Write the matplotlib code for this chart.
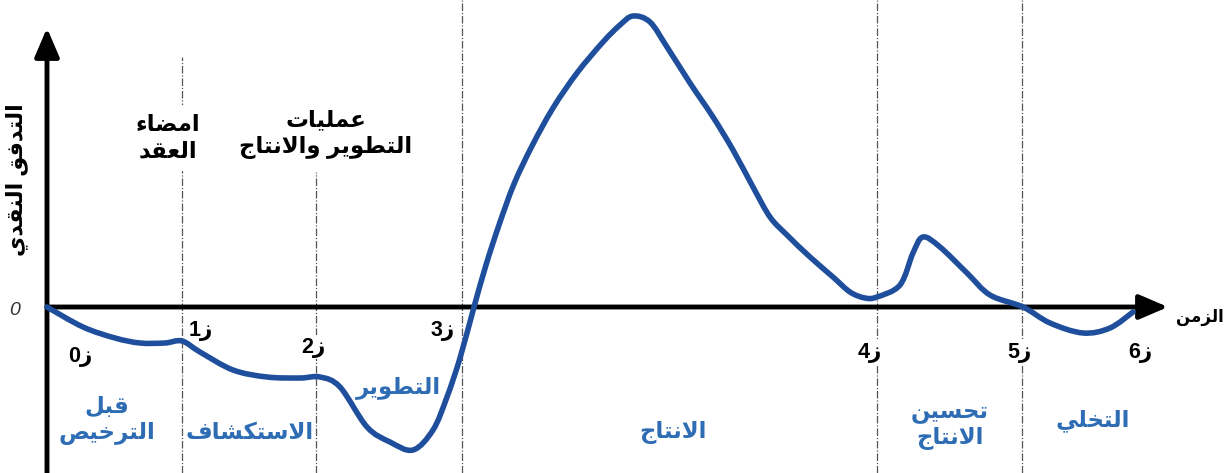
import numpy as np
import matplotlib
matplotlib.use('Agg')
import matplotlib.pyplot as plt
from matplotlib.path import Path
from matplotlib.patches import PathPatch

# Cash-flow curve (time, cash flow), arbitrary units
t_vals = [0.0, 0.36, 0.68, 0.93, 1.18, 1.35, 1.53, 1.86, 2.20, 2.53, 2.73, 2.93,
          3.20, 3.43, 3.66, 3.86, 4.00, 4.13, 4.27, 4.39, 4.52, 4.67, 4.85, 5.06,
          5.30, 5.56, 5.73, 5.86, 6.03, 6.20, 6.43, 6.66, 6.86, 7.06, 7.23, 7.40,
          7.63, 7.86, 8.03, 8.18, 8.30, 8.53, 8.66, 8.76, 8.93, 9.20, 9.43, 9.76,
          10.03, 10.36, 10.63, 10.86]
cf_vals = [0.0, -0.20, -0.31, -0.36, -0.36, -0.34, -0.45, -0.63, -0.70, -0.71, -0.70, -0.80,
           -1.20, -1.35, -1.43, -1.23, -0.90, -0.51, 0.0, 0.42, 0.82, 1.23, 1.61, 1.99,
           2.34, 2.65, 2.82, 2.91, 2.85, 2.60, 2.24, 1.90, 1.57, 1.20, 0.90, 0.72,
           0.50, 0.30, 0.15, 0.09, 0.10, 0.22, 0.54, 0.70, 0.60, 0.34, 0.12, 0.0,
           -0.16, -0.26, -0.21, -0.05]

# milestones ز0 .. ز6
mile_t = [0.0, 1.35, 2.69, 4.15, 8.30, 9.75, 10.97]
mile_names = ['ز0', 'ز1', 'ز2', 'ز3', 'ز4', 'ز5', 'ز6']

phase_names = ['قبل\nالترخيص', 'الاستكشاف', 'التطوير', 'الانتاج', 'تحسين\nالانتاج', 'التخلي']
event_names = ['امضاء\nالعقد', 'عمليات\nالتطوير والانتاج']
x_title = 'الزمن'
y_title = 'التدفق النقدي'

#--------------------------
# matplotlib has no arabic shaping: use presentation forms + visual order
FORMS = {
    'ء': ('\uFE80',),
    'ا': ('\uFE8D', '\uFE8E'),
    'ب': ('\uFE8F', '\uFE90', '\uFE91', '\uFE92'),
    'ت': ('\uFE95', '\uFE96', '\uFE97', '\uFE98'),
    'ج': ('\uFE9D', '\uFE9E', '\uFE9F', '\uFEA0'),
    'ح': ('\uFEA1', '\uFEA2', '\uFEA3', '\uFEA4'),
    'خ': ('\uFEA5', '\uFEA6', '\uFEA7', '\uFEA8'),
    'د': ('\uFEA9', '\uFEAA'),
    'ر': ('\uFEAD', '\uFEAE'),
    'ز': ('\uFEAF', '\uFEB0'),
    'س': ('\uFEB1', '\uFEB2', '\uFEB3', '\uFEB4'),
    'ش': ('\uFEB5', '\uFEB6', '\uFEB7', '\uFEB8'),
    'ص': ('\uFEB9', '\uFEBA', '\uFEBB', '\uFEBC'),
    'ض': ('\uFEBD', '\uFEBE', '\uFEBF', '\uFEC0'),
    'ط': ('\uFEC1', '\uFEC2', '\uFEC3', '\uFEC4'),
    'ع': ('\uFEC9', '\uFECA', '\uFECB', '\uFECC'),
    'ف': ('\uFED1', '\uFED2', '\uFED3', '\uFED4'),
    'ق': ('\uFED5', '\uFED6', '\uFED7', '\uFED8'),
    'ك': ('\uFED9', '\uFEDA', '\uFEDB', '\uFEDC'),
    'ل': ('\uFEDD', '\uFEDE', '\uFEDF', '\uFEE0'),
    'م': ('\uFEE1', '\uFEE2', '\uFEE3', '\uFEE4'),
    'ن': ('\uFEE5', '\uFEE6', '\uFEE7', '\uFEE8'),
    'و': ('\uFEED', '\uFEEE'),
    'ي': ('\uFEF1', '\uFEF2', '\uFEF3', '\uFEF4'),
}

def joins_next(c):
    return c in FORMS and len(FORMS[c]) == 4

def joins_prev(c):
    return c in FORMS and len(FORMS[c]) >= 2

def shape_line(s):
    res = []
    i = 0
    n = len(s)
    while i < n:
        c = s[i]
        prev = s[i - 1] if i > 0 else None
        link_prev = prev is not None and joins_next(prev) and joins_prev(c)
        if c == 'ل' and i + 1 < n and s[i + 1] == 'ا':
            res.append('\uFEFC' if link_prev else '\uFEFB')
            i += 2
            continue
        nxt = s[i + 1] if i + 1 < n else None
        link_next = nxt is not None and joins_next(c) and joins_prev(nxt)
        f = FORMS.get(c)
        if f is None:
            res.append(c)
        elif link_prev and link_next:
            res.append(f[3])
        elif link_prev:
            res.append(f[1])
        elif link_next:
            res.append(f[2])
        else:
            res.append(f[0])
        i += 1
    return ''.join(reversed(res))

def ar(s):
    return '\n'.join(shape_line(l) for l in s.split('\n'))

#--------------------------
myfont = ['Liberation Sans', 'DejaVu Sans']
curve_color = '#1f4f9c'
label_blue = '#2e6db4'

fig = plt.figure(figsize=(12.3, 4.73), dpi=100)
ax = fig.add_axes([0, 0, 1, 1])
ax.set_xlim(-0.47, 11.83)
ax.set_ylim(-1.66, 3.07)
ax.axis('off')

# Axes arrows
ax.annotate('', xy=(0, 2.79), xytext=(0, -1.70),
            arrowprops=dict(arrowstyle='-|>,head_length=0.7,head_width=0.3', lw=3.5,
                            color='black', mutation_scale=25, shrinkA=0, shrinkB=0), zorder=3)
ax.annotate('', xy=(11.21, 0), xytext=(0, 0),
            arrowprops=dict(arrowstyle='-|>,head_length=0.7,head_width=0.3', lw=3.5,
                            color='black', mutation_scale=25, shrinkA=0, shrinkB=0), zorder=3)

# Dashed milestone lines
line_tops = [2.50, 1.35, 3.07, 3.07, 3.07]
for tx, top in zip(mile_t[1:6], line_tops):
    ax.plot([tx, tx], [-1.66, top], color='#555555', lw=0.9,
            linestyle=(0, (6, 1.5, 1, 1.5)), zorder=1)

# Smooth curve (Catmull-Rom -> cubic bezier through the read points)
pts = np.column_stack([t_vals, cf_vals])
verts = [pts[0]]
codes = [Path.MOVETO]
for i in range(len(pts) - 1):
    p0 = pts[i - 1] if i > 0 else pts[i]
    p1 = pts[i]
    p2 = pts[i + 1]
    p3 = pts[i + 2] if i + 2 < len(pts) else pts[i + 1]
    verts += [p1 + (p2 - p0) / 6.0, p2 - (p3 - p1) / 6.0, p2]
    codes += [Path.CURVE4] * 3
ax.add_patch(PathPatch(Path(verts, codes), facecolor='none', edgecolor=curve_color,
                       lw=4, capstyle='round', joinstyle='round', zorder=5))

# Milestone labels
mile_pos = [(0.33, -0.49), (1.54, -0.23), (2.66, -0.40), (3.96, -0.23),
            (8.23, -0.45), (9.73, -0.45), (10.93, -0.45)]
for name, (mx, my) in zip(mile_names, mile_pos):
    ax.text(mx, my, ar(name), ha='center', va='center', fontsize=15.5, fontweight='bold',
            family=myfont, color='black', zorder=4,
            bbox=dict(facecolor='white', edgecolor='none', pad=1))

# Phase labels (blue)
phase_pos = [(0.60, -1.13), (2.03, -1.25), (3.51, -0.80), (6.26, -1.25), (9.03, -1.18), (10.46, -1.13)]
for name, (px, py) in zip(phase_names, phase_pos):
    ax.text(px, py, ar(name), ha='center', va='center', fontsize=16.5, fontweight='bold',
            family=myfont, color=label_blue, linespacing=1.15, zorder=4)

# Event labels (black, top)
event_pos = [(1.21, 1.69), (2.79, 1.73)]
for name, (ex, ey) in zip(event_names, event_pos):
    ax.text(ex, ey, ar(name), ha='center', va='center', fontsize=16.5, fontweight='bold',
            family=myfont, color='black', linespacing=1.2, zorder=4,
            bbox=dict(facecolor='white', edgecolor='none', pad=6))

# Axis titles
ax.text(-0.32, -0.03, '0', ha='center', va='center', fontsize=14, fontstyle='italic',
        family=myfont, color='#333333')
ax.text(11.53, -0.10, ar(x_title), ha='center', va='center', fontsize=12, fontweight='bold',
        family=myfont, color='black')
ax.text(-0.30, 1.27, ar(y_title), ha='center', va='center', fontsize=16, fontweight='bold',
        family=myfont, color='black', rotation=90)

fig.savefig('out.png', dpi=100, facecolor='white')
